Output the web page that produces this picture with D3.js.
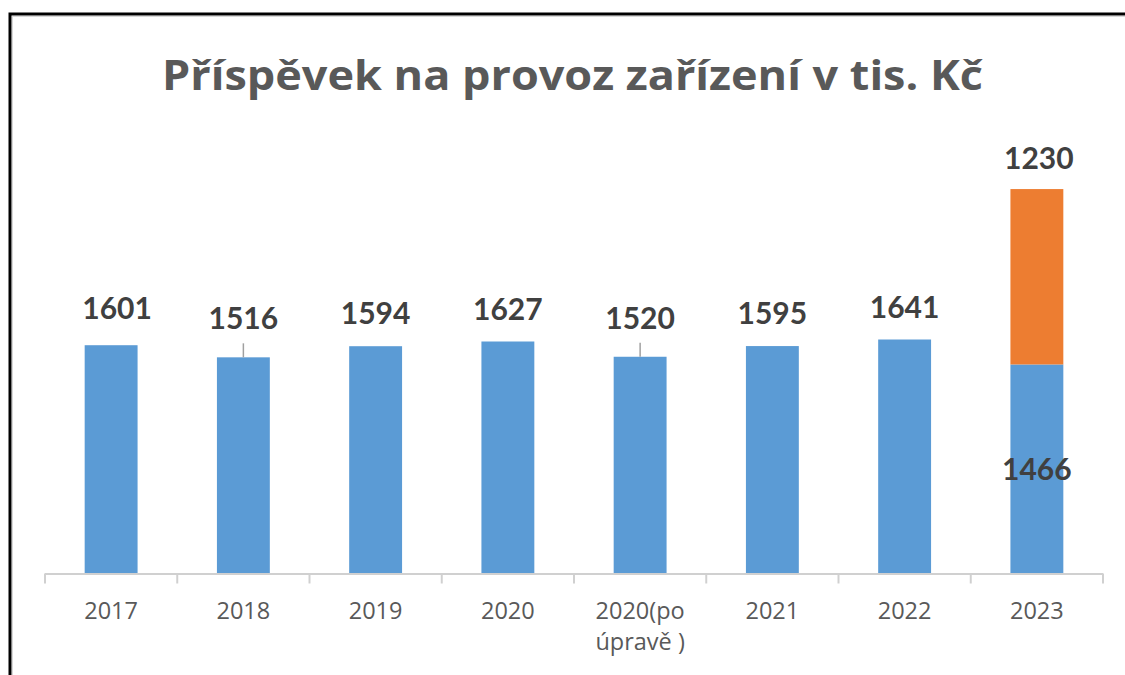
<!DOCTYPE html>
<html>
<head>
<meta charset="utf-8">
<script src="https://cdn.jsdelivr.net/npm/d3@7/dist/d3.min.js"></script>
<style>
  html, body { margin: 0; padding: 0; background: #fff; }
  svg { display: block; }
</style>
</head>
<body>
<svg id="chart" width="1125" height="675"></svg>
<script>
// ---- data ----
const categories = ["2017", "2018", "2019", "2020", "2020(po úpravě )", "2021", "2022", "2023"];
const tickLabelLines = [["2017"], ["2018"], ["2019"], ["2020"], ["2020(po", "úpravě )"], ["2021"], ["2022"], ["2023"]];
const baseValues = [1601, 1516, 1594, 1627, 1520, 1595, 1641, 1466];
const extraValues = [0, 0, 0, 0, 0, 0, 0, 1230];
const titleText = "Příspěvek na provoz zařízení v tis. Kč";

// ---- layout / style ----
const W = 1125, H = 675;
const svg = d3.select("#chart");
const blue = "#5B9BD5", orange = "#ED7D31";
const axisColor = "#d0d0d0";

const x = d3.scaleBand().domain(categories).range([45, 1103]).paddingInner(0.6).paddingOuter(0.3);
const y = d3.scaleLinear().domain([0, 2700]).range([573.5, 188.5]);

// frame
svg.append("rect").attr("x", 10).attr("y", 14).attr("width", W + 20).attr("height", H + 20)
  .attr("fill", "none").attr("stroke", "#000").attr("stroke-width", 3);
svg.append("rect").attr("x", 12.5).attr("y", 16.5).attr("width", W + 20).attr("height", H + 20)
  .attr("fill", "none").attr("stroke", "#d8d8d8").attr("stroke-width", 1);

// title
svg.append("text").attr("x", 572.5).attr("y", 90).attr("text-anchor", "middle")
  .attr("font-family", "'Open Sans', Lato, sans-serif").attr("font-weight", 700)
  .attr("font-size", 41).attr("fill", "#595959")
  .attr("textLength", 821).attr("lengthAdjust", "spacingAndGlyphs")
  .text(titleText);

const rows = categories.map((c, i) => ({ c, i, base: baseValues[i], extra: extraValues[i] }));

// bars
svg.append("g").selectAll("rect.base").data(rows).join("rect")
  .attr("x", d => x(d.c)).attr("width", x.bandwidth())
  .attr("y", d => y(d.base)).attr("height", d => y(0) - y(d.base))
  .attr("fill", blue);
svg.append("g").selectAll("rect.extra").data(rows.filter(d => d.extra > 0)).join("rect")
  .attr("x", d => x(d.c)).attr("width", x.bandwidth())
  .attr("y", d => y(d.base + d.extra)).attr("height", d => y(d.base) - y(d.base + d.extra))
  .attr("fill", orange);

// axis
const step = x.step();
const x0 = x.range()[0];
const axisG = svg.append("g");
axisG.append("line").attr("x1", x0).attr("x2", x.range()[1]).attr("y1", y(0) + 0.5).attr("y2", y(0) + 0.5)
  .attr("stroke", axisColor).attr("stroke-width", 2);
axisG.selectAll("line.tick").data(d3.range(categories.length + 1)).join("line")
  .attr("x1", i => x0 + i * step).attr("x2", i => x0 + i * step)
  .attr("y1", y(0)).attr("y2", y(0) + 10)
  .attr("stroke", axisColor).attr("stroke-width", 2);

const tl = axisG.selectAll("text.cat").data(rows).join("text")
  .attr("text-anchor", "middle")
  .attr("font-family", "'Open Sans', Lato, sans-serif").attr("font-size", 23.5).attr("fill", "#595959");
tl.each(function (d) {
  const t = d3.select(this);
  tickLabelLines[d.i].forEach((ln, k) => {
    t.append("tspan").attr("x", x(d.c) + x.bandwidth() / 2).attr("y", 619 + k * 31).text(ln);
  });
});

// data labels
const leaderIdx = new Set([1, 4]);
const labelFont = { family: "Lato, 'Open Sans', sans-serif", size: 30, color: "#404040" };
function baseLabelY(d) {
  if (d.extra > 0) return (y(d.base) + y(0)) / 2 + 11;
  if (leaderIdx.has(d.i)) return y(d.base) - 28;
  if (d.i === 0) return y(d.base) - 26;
  return y(d.base) - 22;
}
const lab = svg.append("g");
lab.selectAll("line.leader").data(rows.filter(d => leaderIdx.has(d.i))).join("line")
  .attr("x1", d => x(d.c) + x.bandwidth() / 2).attr("x2", d => x(d.c) + x.bandwidth() / 2)
  .attr("y1", d => y(d.base) - 14).attr("y2", d => y(d.base))
  .attr("stroke", "#a0a0a0").attr("stroke-width", 1.5);
lab.selectAll("text.base").data(rows).join("text")
  .attr("x", d => x(d.c) + x.bandwidth() / 2 + (d.i === 0 ? 6 : 0)).attr("y", baseLabelY)
  .attr("text-anchor", "middle").attr("font-family", labelFont.family).attr("font-weight", 700)
  .attr("font-size", labelFont.size).attr("fill", labelFont.color)
  .text(d => d.base);
lab.selectAll("text.extra").data(rows.filter(d => d.extra > 0)).join("text")
  .attr("x", d => x(d.c) + x.bandwidth() / 2 + 2).attr("y", d => y(d.base + d.extra) - 20)
  .attr("text-anchor", "middle").attr("font-family", labelFont.family).attr("font-weight", 700)
  .attr("font-size", labelFont.size).attr("fill", labelFont.color)
  .text(d => d.extra);
</script>
</body>
</html>
